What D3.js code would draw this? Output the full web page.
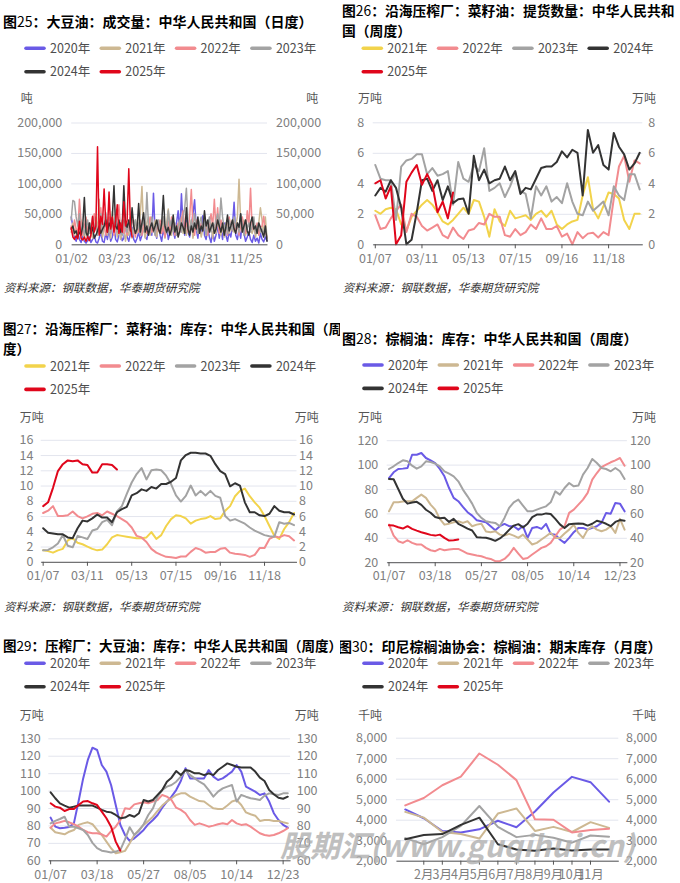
<!DOCTYPE html>
<html>
<head>
<meta charset="utf-8">
<title>油脂成交与库存</title>
<script src="https://cdn.jsdelivr.net/npm/d3@7/dist/d3.min.js"></script>
<style>
  html, body { margin: 0; padding: 0; background: #fff; }
  svg { display: block; }
</style>
</head>
<body>
<svg id="chart" width="680" height="883"></svg>
<script>
// 图25 大豆油成交量（日度），单位：千吨，轴上显示为吨
var vol2020 = [45,30,10,5,20,8,3,15,5,2, 6,12,3,8,15,4,2,10,20,5, 3,18,8,25,5,12,30,8,4,15,
  22,6,10,35,12,5,18,28,8,3, 10,20,6,15,30,12,8,25,40,15, 84,20,10,35,15,5,25,12,30,8,
  18,40,22,10,35,55,20,83,30,15, 45,20,12,30,50,73,25,10,35,20, 47,15,8,25,12,3,20,5,15,30,
  10,25,8,35,15,5,20,12,30,69, 15,8,25,10,35,18,5,12,20,8, 3,15,5,10,2,18,8,4,12,6]
var vol2021 = [20,35,15,25,10,30,40,18,8,28, 15,22,35,10,25,45,20,74,30,12, 25,40,15,30,10,54,20,35,12,28,
  8,18,30,5,22,15,35,10,25,40, 18,30,50,95,25,10,35,45,15,28, 20,40,12,30,18,25,45,10,35,58,
  25,15,40,20,30,12,28,45,18,35, 15,30,20,40,10,25,35,18,30,12, 25,40,15,30,20,35,10,28,18,40,
  22,15,30,12,25,35,18,28,40,20, 30,45,107,35,20,40,15,28,35,22, 18,30,12,25,35,60,40,15,45,10]
var vol2022 = [30,15,40,25,20,74,35,15,28,45, 20,35,12,30,50,25,18,40,60,22, 35,15,28,45,20,38,15,30,50,65,
  25,40,18,30,15,35,22,45,28,12, 30,20,40,15,35,25,18,30,45,20, 28,15,35,22,40,18,30,12,25,38,
  20,45,30,15,28,35,20,40,55,25, 35,20,45,90,30,15,40,25,18,35, 22,40,28,15,35,50,30,74,25,60,
  18,40,30,20,35,15,45,28,22,38, 20,35,15,30,45,25,18,55,30,92, 25,40,20,35,15,28,30,46,20,12]
var vol2023 = [40,72,70,45,30,50,20,35,15,28, 40,18,30,45,22,35,15,28,50,20, 30,52,25,40,18,35,28,45,20,38,
  25,15,40,30,20,35,45,18,28,40, 22,35,15,30,40,25,85,30,20,45, 28,15,35,40,20,30,45,25,18,55,
  30,40,22,35,15,28,40,20,45,60, 92,35,20,40,25,50,30,18,35,45, 22,38,15,30,45,20,35,28,40,50,
  30,76,45,25,35,18,40,30,22,45, 28,35,20,50,30,15,40,25,35,20, 30,45,18,28,35,20,25,15,30,10]
var vol2024 = [25,30,18,22,12,20,15,30,77,20, 12,35,18,28,10,15,22,30,18,25, 30,40,20,35,28,45,96,30,25,40,
  20,30,96,35,28,40,22,60,30,18, 25,67,20,35,52,20,30,15,28,35, 22,30,40,25,18,35,80,30,20,28,
  15,25,48,20,30,12,22,35,28,18, 60,25,15,30,20,35,25,45,18,30, 22,55,30,40,20,28,35,18,25,40,
  30,20,35,15,28,48,22,30,40,25, 18,35,28,50,20,30,40,22,15,35, 45,25,30,18,35,28,20,12,30,5]
var vol2025 = [27,12,8,14,9,38,10,7,12,5, 13,6,16,46,20,30,160,15,46,33, 91,35,20,86,25,45,20,38,65,18,
  35,20,70,30,40,124,30,12]
var dayLabels = ['01/02', '03/23', '06/12', '08/31', '11/25']
var dayLabelIdx = [0, 26, 53, 80, 106]

// 图26 沿海压榨厂菜籽油提货数量（周度），万吨
var lift2021 = [2.2,2.0,2.3,2.4,2.3,1.3,0.9,1.8,2.2,2.6,2.9,2.6,2.1,1.5,1.3,1.6,2.0,2.4,2.0,2.9,2.8,1.8,0.5,2.3,1.5,1.2,
  2.2,1.7,1.8,1.9,1.6,2.0,2.2,1.8,2.2,1.3,1.0,1.3,1.5,1.6,3.2,4.4,2.3,1.7,2.5,3.4,3.3,3.0,1.6,1.0,2.0,2.0]
var lift2022 = [1.9,1.0,1.1,1.7,2.2,2.6,0.8,2.0,1.8,1.2,0.9,1.1,1.3,0.6,0.4,1.1,0.6,0.35,0.9,1.0,1.4,1.3,2.0,1.8,1.8,0.6,
  0.5,1.0,0.6,0.8,1.3,1.0,1.7,1.0,1.0,1.2,0.5,0.7,0.0,0.8,0.4,0.7,0.75,0.45,0.8,0.6,3.0,5.1,5.8,4.1,5.5,5.3]
var lift2023 = [5.2,4.3,4.2,4.2,1.6,5.1,5.5,5.6,5.9,5.9,4.6,5.0,4.5,4.6,4.8,2.6,5.4,4.3,4.1,5.2,4.8,6.3,3.5,3.7,4.0,3.1,
  3.8,4.7,3.5,3.3,1.7,3.8,3.2,3.8,2.8,3.1,2.7,4.0,2.8,2.0,1.9,2.8,2.2,2.5,2.8,1.9,3.8,3.2,2.9,4.6,4.6,3.6]
var lift2024 = [3.2,3.7,3.45,4.2,3.7,2.4,0.0,0.3,2.1,4.2,4.3,3.5,4.2,2.9,3.8,2.7,2.95,3.0,2.0,5.8,4.2,4.9,4.0,4.2,4.3,5.1,
  4.2,4.8,3.3,3.7,3.6,4.3,5.0,5.1,5.1,5.4,6.1,5.7,6.2,6.0,3.2,7.5,6.0,6.5,5.2,4.9,7.3,6.4,5.9,4.9,5.3,6.0]
var lift2025 = [4.0,4.2,3.0,3.8,0.0,0.6,4.1,4.7,5.2,3.9,4.6,3.9,2.1,2.8,1.7,3.4]

// 图27 沿海压榨厂菜籽油库存（周度），万吨
var rs2021 = [1.5,1.4,1.2,1.5,1.7,2.8,3.1,2.5,2.3,2.0,1.7,1.5,1.6,2.3,3.2,3.5,3.4,3.3,3.2,3.1,3.1,3.2,3.9,3.0,3.5,4.7,
  5.6,6.1,6.0,5.7,5.0,5.4,5.6,5.7,6.0,5.6,5.7,6.7,7.3,8.6,9.3,9.6,8.6,7.8,7.1,6.0,4.7,3.4,3.0,4.3,5.2,6.4]
var rs2022 = [6.4,6.7,7.3,6.0,6.0,6.1,6.6,6.0,5.7,5.95,6.3,6.4,6.1,6.6,6.3,6.0,5.6,5.2,4.5,3.4,3.2,2.6,1.7,1.2,0.9,0.65,
  0.6,0.5,0.7,0.7,1.3,1.8,1.6,1.2,1.3,1.3,1.7,1.8,1.2,1.05,1.0,0.9,0.65,0.9,1.8,1.8,3.0,3.35,3.2,3.5,3.35,2.8]
var rs2023 = [1.5,1.55,1.9,2.4,3.5,2.1,1.9,3.4,3.2,3.0,4.1,4.3,5.2,5.5,4.8,6.6,7.3,8.9,10.4,11.5,12.3,10.8,12.0,12.1,12.0,11.3,
  10.2,8.7,7.9,8.65,10.0,8.7,9.3,8.7,9.3,8.65,8.4,6.0,5.4,5.6,5.3,5.0,4.5,4.1,3.8,3.5,3.35,3.3,5.2,5.0,5.1,4.8]
var rs2024 = [4.4,3.8,3.7,3.6,3.6,3.2,3.1,4.4,5.4,5.3,5.7,6.2,5.8,5.8,5.2,6.5,6.9,7.2,8.7,9.0,9.5,9.3,9.8,9.6,10.2,10.2,
  10.5,11.0,13.3,14.0,14.3,14.3,14.2,14.2,13.9,12.8,11.9,11.5,9.9,10.3,10.0,7.8,6.5,6.5,6.1,6.0,6.3,7.3,6.7,6.5,6.5,6.2]
var rs2025 = [7.3,7.8,9.7,11.9,12.8,13.3,13.2,13.3,12.8,12.7,11.7,11.7,12.8,12.8,12.7,12.1]
var weekLabelsA = ['01/07', '03/11', '05/13', '07/15', '09/16', '11/18']
var weekIdxA = [0, 9, 18, 27, 36, 45]

// 图28 棕榈油库存（周度），万吨
var palm2020 = [89,93.7,96.4,96.7,97.2,108.1,108.1,109.5,105.4,103.5,101.3,96.4,90.4,80.8,72.7,70,65.3,61,58.2,54.4,53.6,52.7,
  49.5,46.2,49.5,51.4,49.5,49.5,46.7,49.5,39.9,48.1,48.9,47.3,51.4,43.2,42.6,38.6,35.8,39.9,44.6,48.1,48.1,46.7,48.1,49.5,
  52.2,60.4,59.8,68.6,68,61.7]
var palm2021 = [61.7,69.1,69.1,69.7,69.9,69.9,72.7,75.4,72.7,67.2,63.1,55.5,50.8,51.6,52.7,53.6,52.2,53.6,49.5,50.8,51.6,45.1,
  44.6,45.4,42.6,41.8,43.2,41.8,39.9,42.6,38.6,34.5,35.8,38.6,41.3,44,39.9,39.9,43.5,46.7,50.8,44,39.9,46.7,49.5,46.7,
  45.4,46.7,49.5,44,55.5,46.7]
var palm2022 = [50.8,41.8,37.2,35.8,38,35.8,34.5,34.5,31.7,29.8,29,30.9,29.8,30.4,30.9,30.9,29,27.1,26.3,25.5,24.9,23.5,
  22.7,20.8,20.8,22.7,26.3,31.7,27.1,22.7,23.5,26.3,29,31.7,33.1,35.8,41.3,46.7,49.5,60.4,63.1,67.2,71.3,76.8,87.7,93.1,
  98,99.9,101.9,103.5,105.4,99.1]
var palm2023 = [96.4,98.6,101.3,103.5,102.7,99.1,96.7,98.6,102.7,102.1,100.8,98.6,94.5,92.6,90.4,86.3,79.5,74,68,60.4,56.3,
  53.6,52.7,52.2,49.5,56.3,64.5,69.1,71.3,66.4,61.7,61.7,63.1,64.5,65.8,69.1,78.1,75.4,80.8,84.9,82.2,82.8,91.8,97.2,
  104.6,101.3,97.2,96.4,94.5,97.2,94.5,88.2]
var palm2024 = [88.2,88,80,72,68,69,69.5,67,63,60.5,57,56,56.5,53,55.5,51.5,49.5,47.5,46,40.5,40.2,40,39,37.5,39.5,42.5,
  46.5,50,51.2,48.5,51.5,57,59,59,60,59.5,55.5,51,48,51.2,51.6,51.8,51.5,50,51.5,54,53,51.5,49.5,53,54.5,54]
var palm2025 = [50.3,50,48.6,47.6,49.5,47.3,45.9,44.6,43.5,42.4,41.8,42.6,39.9,37.7,38,38.6]
var weekLabelsB = ['01/07', '03/18', '05/27', '08/05', '10/14', '12/23']
var weekIdxB = [0, 10, 20, 30, 40, 50]

// 图29 压榨厂大豆油库存（周度），万吨
var soy2020 = [84.5,79.3,78.4,78.7,79.1,81.2,93.7,107,117.6,124.6,123.3,114.7,110.9,103.2,91.7,80.3,74.5,71.1,72.6,74.9,
  77.4,80.7,83.1,86,90.2,93.7,96.5,100.3,105.5,112.8,107,107,107,107,111.8,108,106.1,107,108.9,110.9,114.7,110.9,102.3,
  100.9,99.4,97.5,98.4,93.7,87,83.1,80.3,78.7]
var soy2021 = [78.7,76.1,75.5,74.9,76.4,77.4,80.3,81.2,81.8,80.7,77.4,74.5,70.7,66.9,64,64.6,65.4,69.8,74.5,77.4,80.3,82.6,
  85,88.3,91.4,93.7,95.6,97.5,98.4,98.4,96.5,95.2,94,93.7,91.7,89.8,89.4,89.4,91.4,93.7,94.6,91.7,87.5,86.4,85.6,82.6,
  83.1,83.1,82.6,82.6,81.8,81.2]
var soy2022 = [78.7,81.2,81.8,82.6,81.8,80.7,79.3,77.4,76.1,75.5,75.5,74.9,73.6,76.8,79.3,83.1,89.8,89.4,92.1,92.7,93.3,92.7,
  93.7,94.6,97.5,96.5,94.6,90.2,88.9,87,83.1,80.3,81.2,80.3,79.3,79.9,80.7,81.2,80.7,83.1,81.2,80.3,80.7,79.3,77.4,75.5,
  74.5,74.1,74.5,75.5,76.8,78.4]
var soy2023 = [81.2,82.6,83.7,85,79.3,79.3,78.4,77.4,74.5,70,67,65.5,65,64.5,65,66,72,79,74.5,77,80.7,86,89.8,96.5,100.3,
  102.3,103.2,105.1,108,111.8,108.9,107,105.1,103.6,100.3,96.5,99.4,101.3,102.3,103.2,93.7,97.5,96.5,95.6,95.2,94.6,97.1,
  98.4,97.9,97.5,98.4,98.4]
var soy2024 = [99,95.6,92.7,91.4,90.2,90.8,91.4,91.4,91.4,91.4,90.2,88.9,87.9,87.5,86,84.1,84.5,86,85,87,94.6,93.7,94.6,97.5,
  100.3,105.1,107.4,111.2,108.9,111.8,111.2,109.9,109.9,108.9,109.9,108.9,111.8,113.7,115.6,114.7,113.7,113.3,113.2,113.3,
  110.9,107.4,105.5,100.3,97.9,95.9,95.3,96.5]
var soy2025 = [92.7,90.8,90.2,88.3,89.4,89.4,91.7,93.7,94,92.7,91.7,87.9,84.1,79.3,70.7,65.5]

// 图30 印尼棕榈油协会期末库存（月度），千吨
var months = ['1月','2月','3月','4月','5月','6月','7月','8月','9月','10月','11月','12月']
var monthIdx = [1, 2, 3, 4, 5, 6, 7, 8, 9, 10]
var indo2020 = [4500,4070,3450,3380,3530,3950,3630,4400,5330,6090,5830,4880]
var indo2021 = [4380,4100,3400,3300,3080,4300,4550,3450,3650,3400,3880,3600]
var indo2022 = [4700,5060,5680,6100,7230,6680,5930,4020,4000,3380,3500,3560]
var indo2023 = [3100,2800,3150,3700,4670,3650,3150,3260,3120,2880,3230,3170]
var indo2024 = [3050,3250,3300,3750,4100,2800,2550,2480,2600,2500,2550,2550]
var indo2025 = []

var FONT = '"Noto Sans CJK SC", "Noto Sans", sans-serif'
var SOURCE = '资料来源：钢联数据，华泰期货研究院'
var col = {
  y2020: '#6a5ae6', y2021: '#cdb892', y2021b: '#f2d34b', y2022: '#f28b8f',
  y2023: '#a3a3a3', y2024: '#333333', y2025: '#e0061b'
}
var fullYears = function (a, b, c, d, e, f) {
  return [
    { name: '2020年', color: col.y2020, data: a }, { name: '2021年', color: col.y2021, data: b },
    { name: '2022年', color: col.y2022, data: c }, { name: '2023年', color: col.y2023, data: d },
    { name: '2024年', color: col.y2024, data: e }, { name: '2025年', color: col.y2025, data: f }
  ]
}
var rapeYears = function (b, c, d, e, f) {
  return [
    { name: '2021年', color: col.y2021b, data: b }, { name: '2022年', color: col.y2022, data: c },
    { name: '2023年', color: col.y2023, data: d }, { name: '2024年', color: col.y2024, data: e },
    { name: '2025年', color: col.y2025, data: f }
  ]
}

var panels = [
  { id: 'p25', clip: [0, 0, 340, 305], title: ['图25：大豆油：成交量：中华人民共和国（日度）'], tx: 3, ty: 26.5, ts: 14,
    lx: 26, ly: 48.3, unit: '吨', uL: 26.7, uR: 312.3, uy: 99,
    xType: 'linear', n: 120, x0: 71.2, x1: 267, yb: 244.3, yt: 122.5, yDomain: [0, 200], yTicks: [0, 50, 100, 150, 200],
    yFmt: function (d) { return d3.format(',')(d * 1000) }, labL: 62.3, labR: 276,
    xLabels: dayLabels, xIdx: dayLabelIdx, tick: 0, lw: 1.5, src: [4, 292],
    series: fullYears(vol2020, vol2021, vol2022, vol2023, vol2024, vol2025) },
  { id: 'p26', clip: [340, 0, 340, 305], title: ['图26：沿海压榨厂：菜籽油：提货数量：中华人民共和', '国（周度）'], tx: 342, ty: 16, ts: 13.8,
    lx: 363.3, ly: 48.3, unit: '万吨', uL: 370, uR: 644, uy: 99,
    xType: 'band', n: 52, x0: 372.7, x1: 642.3, yb: 244.3, yt: 122.3, yDomain: [0, 8], yTicks: [0, 2, 4, 6, 8],
    yFmt: d3.format('d'), labL: 364.3, labR: 648.3,
    xLabels: weekLabelsA, xIdx: weekIdxA, tick: 4, lw: 2, src: [342.7, 292],
    series: rapeYears(lift2021, lift2022, lift2023, lift2024, lift2025) },
  { id: 'p27', clip: [0, 305, 340, 310], title: ['图27：沿海压榨厂：菜籽油：库存：中华人民共和国（周', '度）'], tx: 3, ty: 334, ts: 13.5,
    lx: 26, ly: 366, unit: '万吨', uL: 31.7, uR: 306.7, uy: 418,
    xType: 'band', n: 52, x0: 40.7, x1: 296.5, yb: 561.8, yt: 439.8, yDomain: [0, 16], yTicks: [0, 2, 4, 6, 8, 10, 12, 14, 16],
    yFmt: d3.format('d'), labL: 33.5, labR: 299,
    xLabels: weekLabelsA, xIdx: weekIdxA, tick: 4, lw: 2, src: [4, 611],
    series: rapeYears(rs2021, rs2022, rs2023, rs2024, rs2025) },
  { id: 'p28', clip: [340, 305, 340, 310], title: ['图28：棕榈油：库存：中华人民共和国（周度）'], tx: 342, ty: 344, ts: 14,
    lx: 364, ly: 365, unit: '万吨', uL: 370, uR: 644, uy: 417.3,
    xType: 'band', n: 52, x0: 386.7, x1: 626.9, yb: 562.2, yt: 440.2, yDomain: [20, 120], yTicks: [20, 40, 60, 80, 100, 120],
    yFmt: d3.format('d'), labL: 378.3, labR: 630,
    xLabels: weekLabelsB, xIdx: weekIdxB, tick: 4, lw: 2, src: [342, 611],
    series: fullYears(palm2020, palm2021, palm2022, palm2023, palm2024, palm2025) },
  { id: 'p29', clip: [0, 615, 340, 268], title: ['图29：压榨厂：大豆油：库存：中华人民共和国（周度）'], tx: 3, ty: 651, ts: 13.5,
    lx: 26, ly: 663.3, unit: '万吨', uL: 31.7, uR: 306.7, uy: 716,
    xType: 'band', n: 52, x0: 48.3, x1: 290.1, yb: 860.3, yt: 738.3, yDomain: [60, 130], yTicks: [60, 70, 80, 90, 100, 110, 120, 130],
    yFmt: d3.format('d'), labL: 40.7, labR: 296.7,
    xLabels: weekLabelsB, xIdx: weekIdxB, tick: 4, lw: 2, src: null,
    series: fullYears(soy2020, soy2021, soy2022, soy2023, soy2024, soy2025) },
  { id: 'p30', clip: [340, 615, 340, 268], title: ['图30：印尼棕榈油协会：棕榈油：期末库存（月度）'], tx: 338, ty: 651.5, ts: 14,
    lx: 364, ly: 663.3, unit: '千吨', uL: 370, uR: 644, uy: 716,
    xType: 'band', n: 12, x0: 396, x1: 618.3, yb: 860.7, yt: 737.7, yDomain: [2000, 8000],
    yTicks: [2000, 3000, 4000, 5000, 6000, 7000, 8000],
    yFmt: d3.format(','), labL: 387.3, labR: 626,
    xLabels: monthIdx.map(function (i) { return months[i] }), xIdx: monthIdx, tick: 4, lw: 2, src: null,
    series: fullYears(indo2020, indo2021, indo2022, indo2023, indo2024, indo2025) }
]

var svg = d3.select('#chart').attr('font-family', FONT)
var defs = svg.append('defs')

function drawPanel (p) {
  defs.append('clipPath').attr('id', 'clip-' + p.id).append('rect')
    .attr('x', p.clip[0]).attr('y', p.clip[1]).attr('width', p.clip[2]).attr('height', p.clip[3])
  var g = svg.append('g').attr('clip-path', 'url(#clip-' + p.id + ')')

  // 标题：数字不加粗
  p.title.forEach(function (line, k) {
    var t = g.append('text').attr('x', p.tx).attr('y', p.ty + k * 20)
      .attr('font-size', p.ts + 'px').attr('fill', '#000')
    line.split(/(\d+)/).forEach(function (part) {
      if (!part) return
      t.append('tspan').attr('font-weight', /^\d+$/.test(part) ? 'normal' : 'bold').text(part)
    })
  })

  // 图例
  p.series.forEach(function (s, k) {
    var lx = p.lx + (k % 4) * 75.3
    var ly = p.ly + Math.floor(k / 4) * 23.4
    g.append('line').attr('x1', lx).attr('x2', lx + 18).attr('y1', ly).attr('y2', ly)
      .attr('stroke', s.color).attr('stroke-width', 3.6).attr('stroke-linecap', 'round')
    g.append('text').attr('x', lx + 24).attr('y', ly).attr('dy', '0.36em')
      .attr('font-size', '12.5px').attr('fill', '#4d4d4d').text(s.name)
  })

  // 单位
  ;[p.uL, p.uR].forEach(function (ux) {
    g.append('text').attr('x', ux).attr('y', p.uy).attr('dy', '0.36em').attr('text-anchor', 'middle')
      .attr('font-size', '12px').attr('fill', '#555').text(p.unit)
  })

  var y = d3.scaleLinear().domain(p.yDomain).range([p.yb, p.yt])
  var x, px
  if (p.xType === 'linear') {
    x = d3.scaleLinear().domain([0, p.n - 1]).range([p.x0, p.x1])
    px = function (i) { return x(i) }
  } else {
    x = d3.scaleBand().domain(d3.range(p.n)).range([p.x0, p.x1])
    px = function (i) { return x(i) + x.bandwidth() / 2 }
  }

  // 左轴 + 网格
  var yl = g.append('g').attr('transform', 'translate(' + p.x0 + ',0)')
    .call(d3.axisLeft(y).tickValues(p.yTicks).tickFormat(p.yFmt)
      .tickSize(-(p.x1 - p.x0)).tickPadding(p.x0 - p.labL))
  yl.select('.domain').remove()
  yl.selectAll('line').attr('stroke', '#e3e5ee')
  yl.selectAll('text').attr('fill', '#808080').attr('font-size', '12.5px').attr('font-family', FONT)

  // 右轴
  var yr = g.append('g').attr('transform', 'translate(' + p.x1 + ',0)')
    .call(d3.axisRight(y).tickValues(p.yTicks).tickFormat(p.yFmt).tickSize(0).tickPadding(p.labR - p.x1))
  yr.select('.domain').remove()
  yr.selectAll('text').attr('fill', '#808080').attr('font-size', '12.5px').attr('font-family', FONT)

  // 折线
  var line = d3.line().x(function (d, i) { return px(i) }).y(function (d) { return y(d) })
  p.series.forEach(function (s) {
    if (!s.data.length) return
    g.append('path').datum(s.data).attr('d', line).attr('fill', 'none')
      .attr('stroke', s.color).attr('stroke-width', p.lw)
      .attr('stroke-linejoin', 'round').attr('stroke-linecap', 'round')
  })

  // 横轴
  var xa = g.append('g').attr('transform', 'translate(0,' + p.yb + ')')
    .call(d3.axisBottom(x).tickValues(p.xIdx)
      .tickFormat(function (d, k) { return p.xLabels[k] })
      .tickSize(p.tick).tickSizeOuter(0).tickPadding(9.4 - p.tick))
  xa.attr('color', '#555')
  xa.selectAll('text').attr('fill', '#808080').attr('font-size', '12.5px').attr('font-family', FONT)

  if (p.src) {
    g.append('text').attr('x', p.src[0]).attr('y', p.src[1]).attr('font-size', '11.5px')
      .attr('font-style', 'italic').attr('fill', '#333').text(SOURCE)
  }
}

panels.forEach(drawPanel)

// 水印
svg.append('text').attr('x', 280).attr('y', 857).attr('font-size', '30px').attr('font-weight', 'bold')
  .attr('font-style', 'italic').attr('fill', '#b0b0b0').attr('opacity', 0.8)
  .text('股期汇(www.guqihui.cn)')
</script>
</body>
</html>
